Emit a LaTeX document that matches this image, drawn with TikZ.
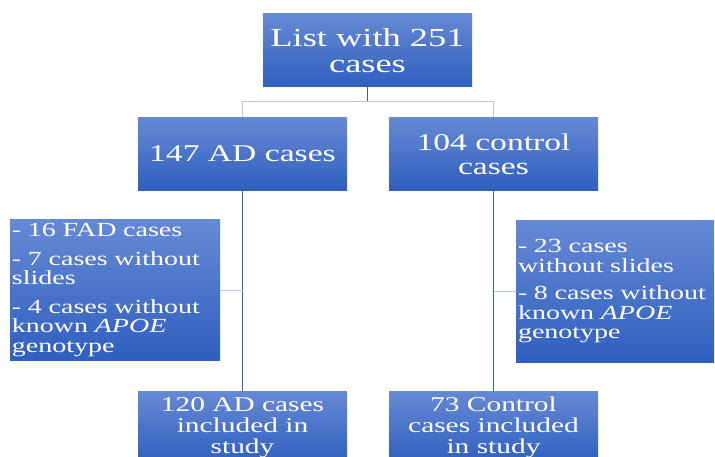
\documentclass[tikz,border=0pt]{standalone}
\usepackage{fontspec}
\setmainfont{Liberation Serif}[FakeStretch=1.4]
\definecolor{boxtop}{HTML}{6689D4}
\definecolor{boxbot}{HTML}{2F5FBF}
\definecolor{darkline}{HTML}{3A5DA6}
\definecolor{lightline}{HTML}{B4C7E7}
\begin{document}
\begin{tikzpicture}[x=1pt, y=-1pt,
  blockbox/.style={top color=boxtop, bottom color=boxbot, text=white,
    inner sep=0pt, outer sep=0pt, minimum width=209pt, minimum height=73pt, align=center},
  sidebox/.style={top color=boxtop, bottom color=boxbot, text=white,
    inner xsep=2pt, inner ysep=0pt, outer sep=0pt, align=left,
    font=\fontsize{20}{19.5}\selectfont},
  lightconn/.style={lightline, line width=1pt},
  darkconn/.style={darkline, line width=1pt}]
\useasboundingbox (0,0) rectangle (715,457);
% boxes
\node[blockbox, font=\fontsize{26}{26.5}\selectfont] (list) at (367.5,50.5) {List with 251\\cases};
\node[blockbox, font=\fontsize{24}{24}\selectfont] (ad) at (242.5,154) {147 AD cases};
\node[blockbox, font=\fontsize{24}{24}\selectfont] (ctrl) at (493.5,154) {104 control\\cases};
\node[sidebox, minimum width=210pt, minimum height=140pt, text width=206pt] (exclad) at (115,290)
  {- 16 FAD cases\\[9pt]- 7 cases without\\slides\\[9pt]- 4 cases without\\known \textit{APOE}\\genotype};
\node[sidebox, minimum width=198pt, minimum height=141pt, text width=194pt] (exclctrl) at (615,291.5)
  {- 23 cases\\without slides\\[8pt]- 8 cases without\\known \textit{APOE}\\genotype};
\node[blockbox, font=\fontsize{21}{21}\selectfont] (inclad) at (242.5,427.5) {120 AD cases\\included in\\study};
\node[blockbox, font=\fontsize{21}{21}\selectfont] (inclctrl) at (493.5,427.5) {73 Control\\cases included\\in study};
% connectors
\coordinate (bar) at (0,102);
\draw[darkconn] (list.south) -- (list.south |- bar);
\draw[lightconn] (ad.north) -- (ad.north |- bar) -- (ctrl.north |- bar) -- (ctrl.north);
\draw[darkconn] (ad.south) -- (inclad.north);
\draw[darkconn] (ctrl.south) -- (inclctrl.north);
\draw[lightconn] (exclad.east) -- (exclad.east -| ad.south);
\draw[lightconn] (exclctrl.west) -- (exclctrl.west -| ctrl.south);
\end{tikzpicture}
\end{document}
